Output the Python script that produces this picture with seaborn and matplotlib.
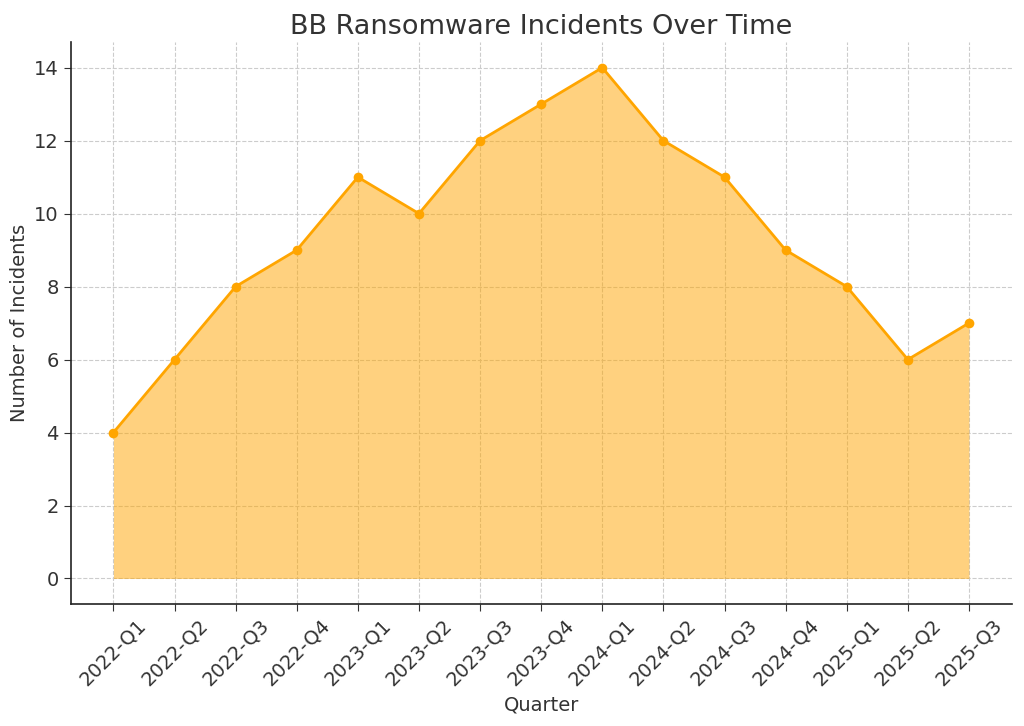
import pandas as pd
import matplotlib.pyplot as plt
import seaborn as sns

# ── Data ──────────────────────────────────────────────────────────────────
quarters = ['2022-Q1', '2022-Q2', '2022-Q3', '2022-Q4',
            '2023-Q1', '2023-Q2', '2023-Q3', '2023-Q4',
            '2024-Q1', '2024-Q2', '2024-Q3', '2024-Q4',
            '2025-Q1', '2025-Q2', '2025-Q3']
incidents = [4, 6, 8, 9, 11, 10, 12, 13, 14, 12, 11, 9, 8, 6, 7]

df = pd.DataFrame({'Quarter': quarters, 'Incidents': incidents})

# ── Style ─────────────────────────────────────────────────────────────────
sns.set_style('ticks')
plt.rcParams['font.family'] = ['DejaVu Sans']
text_col = '#333333'

fig, ax = plt.subplots(figsize=(10.24, 7.26), dpi=100)

ax.fill_between(range(len(df)), df['Incidents'], color='orange', alpha=0.5,
                linewidth=0)
sns.lineplot(data=df, x='Quarter', y='Incidents', marker='o', color='orange',
             linewidth=2, markersize=7, markeredgewidth=0, ax=ax, sort=False)

ax.grid(True, linestyle='--', color='#cccccc', linewidth=0.8)
ax.set_axisbelow(True)
sns.despine(ax=ax)
for s in ['left', 'bottom']:
    ax.spines[s].set_color('#222222')
    ax.spines[s].set_linewidth(1.2)

ax.set_title('BB Ransomware Incidents Over Time', fontsize=19.5, color=text_col)
ax.set_xlabel('Quarter', fontsize=14, color=text_col)
ax.set_ylabel('Number of Incidents', fontsize=14, color=text_col)
ax.set_yticks(range(0, 15, 2))
ax.tick_params(axis='both', labelsize=14, colors=text_col, length=5)
plt.setp(ax.get_xticklabels(), rotation=45)
ax.set_xlim(-0.7, len(df) - 0.3)
ax.set_ylim(-0.7, 14.7)

fig.subplots_adjust(left=0.069, right=0.988, top=0.942, bottom=0.168)
plt.savefig('out.png')
